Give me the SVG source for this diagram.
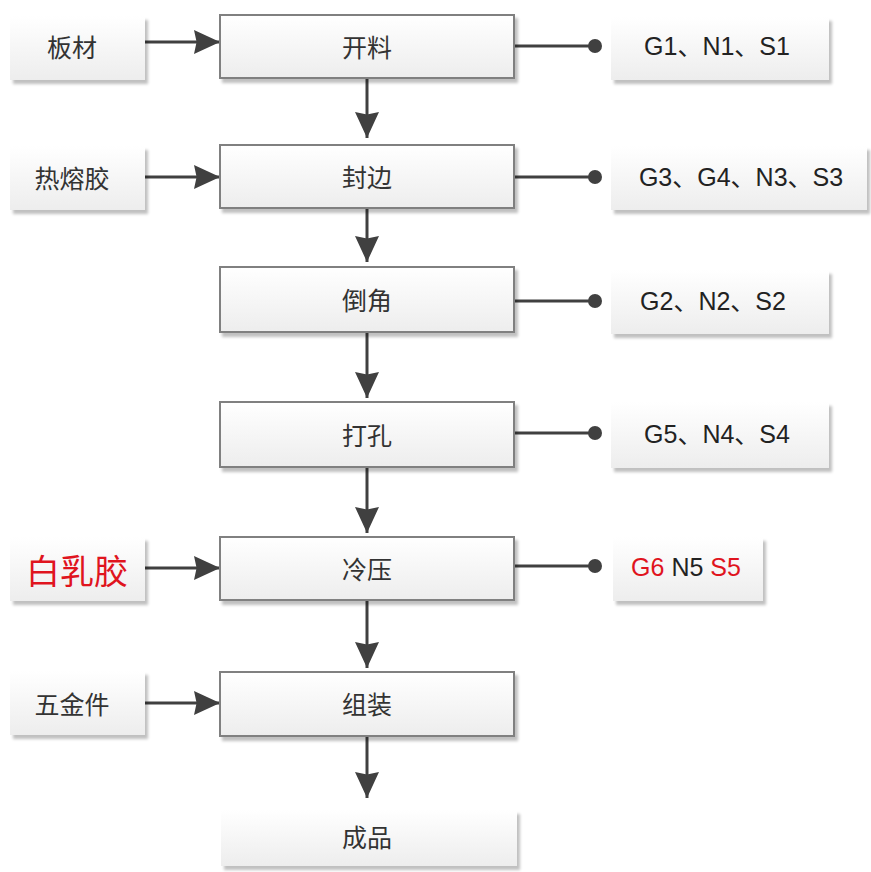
<svg xmlns="http://www.w3.org/2000/svg" width="871" height="872" viewBox="0 0 871 872">
<defs>
<linearGradient id="g" x1="0" y1="0" x2="0" y2="1"><stop offset="0" stop-color="#ffffff"/><stop offset="1" stop-color="#ededed"/></linearGradient>
<filter id="sh" x="-5%" y="-10%" width="115%" height="130%"><feGaussianBlur in="SourceAlpha" stdDeviation="1.5"/><feOffset dx="3" dy="4"/><feComponentTransfer><feFuncA type="linear" slope="0.25"/></feComponentTransfer><feMerge><feMergeNode/><feMergeNode in="SourceGraphic"/></feMerge></filter>
<marker id="av" viewBox="0 0 10 10" refX="10" refY="5" markerWidth="26" markerHeight="24" markerUnits="userSpaceOnUse" orient="auto" preserveAspectRatio="none"><path d="M0,0 L10,5 L0,10 L1,5 Z" fill="#404040"/></marker>
</defs>
<style>
.box{fill:url(#g);stroke:#808080;stroke-width:2;filter:url(#sh)}
.soft{fill:url(#g);stroke:none;filter:url(#sh)}
.t{font-family:"Noto Sans CJK SC","Liberation Sans",sans-serif;font-size:25px;fill:#333;text-anchor:middle;dominant-baseline:central}
.e{font-family:"Liberation Sans","Noto Sans CJK SC",sans-serif;font-size:25px;fill:#222;text-anchor:middle;dominant-baseline:central}
.c{stroke:#404040;stroke-width:3;fill:none}
.red{fill:#e0141e}
</style>
<g id="connectors">
<line class="c" x1="140" y1="42" x2="220" y2="42" marker-end="url(#av)"/>
<line class="c" x1="140" y1="177" x2="220" y2="177" marker-end="url(#av)"/>
<line class="c" x1="140" y1="568" x2="220" y2="568" marker-end="url(#av)"/>
<line class="c" x1="140" y1="703" x2="220" y2="703" marker-end="url(#av)"/>
<line class="c" x1="367" y1="78" x2="367" y2="138" marker-end="url(#av)"/>
<line class="c" x1="367" y1="208" x2="367" y2="262" marker-end="url(#av)"/>
<line class="c" x1="367" y1="332" x2="367" y2="398" marker-end="url(#av)"/>
<line class="c" x1="367" y1="467" x2="367" y2="533" marker-end="url(#av)"/>
<line class="c" x1="367" y1="600" x2="367" y2="668" marker-end="url(#av)"/>
<line class="c" x1="367" y1="736" x2="367" y2="798" marker-end="url(#av)"/>
<line class="c" x1="514" y1="46" x2="595" y2="46"/><circle cx="595" cy="46" r="7" fill="#404040"/>
<line class="c" x1="514" y1="177" x2="595" y2="177"/><circle cx="595" cy="177" r="7" fill="#404040"/>
<line class="c" x1="514" y1="301" x2="595" y2="301"/><circle cx="595" cy="301" r="7" fill="#404040"/>
<line class="c" x1="514" y1="433" x2="595" y2="433"/><circle cx="595" cy="433" r="7" fill="#404040"/>
<line class="c" x1="514" y1="566" x2="595" y2="566"/><circle cx="595" cy="566" r="7" fill="#404040"/>
</g>
<g id="n-bancai"><rect class="soft" x="10" y="16" width="135" height="64"/><text class="t" x="72" y="46">板材</text></g>
<g id="n-rerongjiao"><rect class="soft" x="10" y="146" width="135" height="64"/><text class="t" x="72" y="177">热熔胶</text></g>
<g id="n-bairujiao"><rect class="soft" x="10" y="537" width="135" height="64"/><text class="t red" x="77" y="569" style="font-size:34px">白乳胶</text></g>
<g id="n-wujinjian"><rect class="soft" x="10" y="671" width="135" height="64"/><text class="t" x="72" y="703">五金件</text></g>
<g id="n-kailiao"><rect class="box" x="220" y="15" width="294" height="63"/><text class="t" x="367" y="46">开料</text></g>
<g id="n-fengbian"><rect class="box" x="220" y="145" width="294" height="63"/><text class="t" x="367" y="176">封边</text></g>
<g id="n-daojiao"><rect class="box" x="220" y="267" width="294" height="65"/><text class="t" x="367" y="299">倒角</text></g>
<g id="n-dakong"><rect class="box" x="220" y="402" width="294" height="65"/><text class="t" x="367" y="434">打孔</text></g>
<g id="n-lengya"><rect class="box" x="220" y="537" width="294" height="63"/><text class="t" x="367" y="568">冷压</text></g>
<g id="n-zuzhuang"><rect class="box" x="220" y="672" width="294" height="64"/><text class="t" x="367" y="703">组装</text></g>
<g id="n-chengpin"><rect class="soft" x="221" y="810" width="296" height="56"/><text class="t" x="367" y="836">成品</text></g>
<g id="n-g1"><rect class="soft" x="611" y="17" width="218" height="63"/><text class="e" x="717" y="46">G1、N1、S1</text></g>
<g id="n-g3"><rect class="soft" x="611" y="146" width="256" height="64"/><text class="e" x="741" y="177">G3、G4、N3、S3</text></g>
<g id="n-g2"><rect class="soft" x="611" y="270" width="218" height="64"/><text class="e" x="713" y="301">G2、N2、S2</text></g>
<g id="n-g5"><rect class="soft" x="611" y="402" width="218" height="66"/><text class="e" x="717" y="434">G5、N4、S4</text></g>
<g id="n-g6"><rect class="soft" x="613" y="537" width="150" height="64"/><text class="e" x="686" y="567"><tspan class="red">G6</tspan> N5 <tspan class="red">S5</tspan></text></g>
</svg>
